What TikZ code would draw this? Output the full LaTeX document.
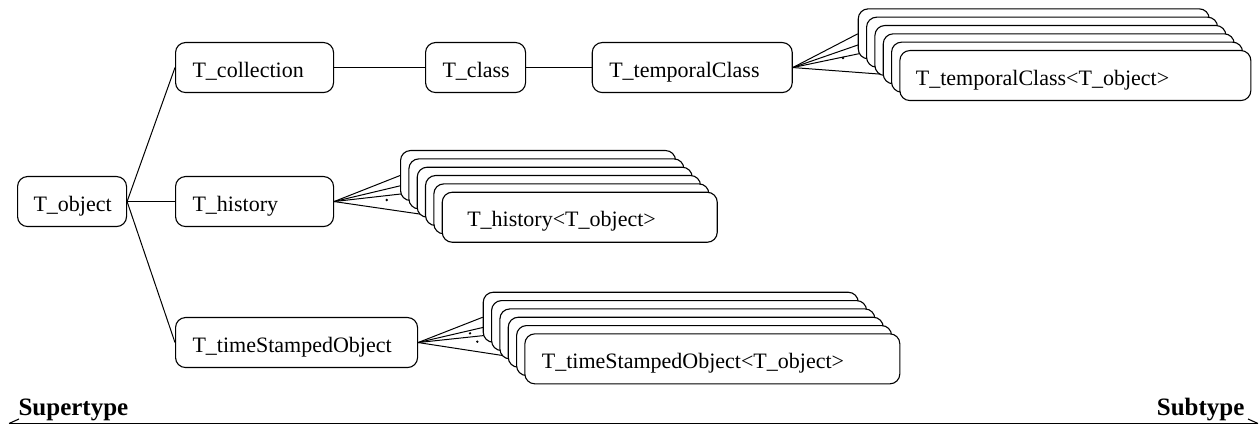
\documentclass[tikz,border=0pt]{standalone}
\usepackage{fontspec}
\setmainfont{Liberation Serif}
\usetikzlibrary{backgrounds}
\begin{document}
\begin{tikzpicture}[x=1pt,y=-1pt,
  every path/.style={line width=1.1pt},
  box/.style={draw, fill=white, rounded corners=10pt, minimum height=50pt,
    inner xsep=17pt, inner ysep=0pt, anchor=north west, align=left,
    text height=19pt, text depth=0pt,
    font=\fontsize{22}{26}\selectfont,
    execute at begin node={\hyphenpenalty=10000 \exhyphenpenalty=10000}},
  conn/.style={draw, line width=1pt},
  dotm/.style={fill, circle, inner sep=0pt, minimum size=2.6pt},
  axislabel/.style={font=\fontsize{25}{29}\selectfont\bfseries, inner sep=0pt}]
\useasboundingbox (0,0) rectangle (1259,427);

% main nodes
\node[box, inner xsep=16pt, text width=77pt] (obj) at (17,176) {T\_object};
\node[box, text width=124pt] (coll) at (175,42) {T\_collection};
\node[box, text width=124pt] (hist) at (175,176) {T\_history};
\node[box, text width=208pt] (ts) at (175,317) {T\_timeStampedObject};
\node[box, text width=66pt] (cls) at (425,42) {T\_class};
\node[box, text width=166pt] (tcls) at (591.7,42) {T\_temporalClass};

% temporal class stack
\foreach \k in {0,...,4}
  \node[box, text width=317pt] (tc\k) at ({857.7+8.33*\k},{8.3+8.33*\k}) {};
\node[box, inner xsep=16pt, text width=319pt] (tc5) at (899.3,50) {T\_temporalClass<T\_object>};

% history stack
\foreach \k in {0,...,4}
  \node[box, text width=241pt] (hs\k) at ({400+8.33*\k},{150+8.33*\k}) {};
\node[box, inner xsep=25pt, text width=225pt] (hs5) at (441.7,191.7) {T\_history<T\_object>};

% time stamped stack
\foreach \k in {0,...,4}
  \node[box, text width=341pt] (tss\k) at ({482.7+8.33*\k},{291.7+8.33*\k}) {};
\node[box, text width=341pt] (tss5) at (524.3,333.3) {T\_timeStampedObject<T\_object>};

\begin{scope}[on background layer]
  \draw[conn] (obj.east) -- (coll.west);
  \draw[conn] (obj.east) -- (hist.west);
  \draw[conn] (obj.east) -- (ts.west);
  \draw[conn] (coll.east) -- (cls.west);
  \draw[conn] (cls.east) -- (tcls.west);
  \foreach \k in {0,1,2,5} {
    \draw[conn] (tcls.east) -- (tc\k.west);
    \draw[conn] (hist.east) -- (hs\k.west);
    \draw[conn] (ts.east) -- (tss\k.west);
  }
\end{scope}

% ellipsis dots
\node[dotm] (d1) at (843,58) {};
\node[dotm] (d2) at (386.7,200) {};
\node[dotm] (d3) at (470,333.3) {};
\node[dotm] (d4) at (477.3,341.7) {};

% supertype / subtype axis
\coordinate (L) at (9,423.5);
\coordinate (R) at (1258,423.5);
\draw (L) -- (R);
\draw (L) -- ++(10,-4.5);
\draw (R) -- ++(-10,-4.5);
\node[axislabel, anchor=base west] (sup) at (18,416) {Supertype};
\node[axislabel, anchor=base east] (sub) at (1245,416) {Subtype};
\end{tikzpicture}
\end{document}
